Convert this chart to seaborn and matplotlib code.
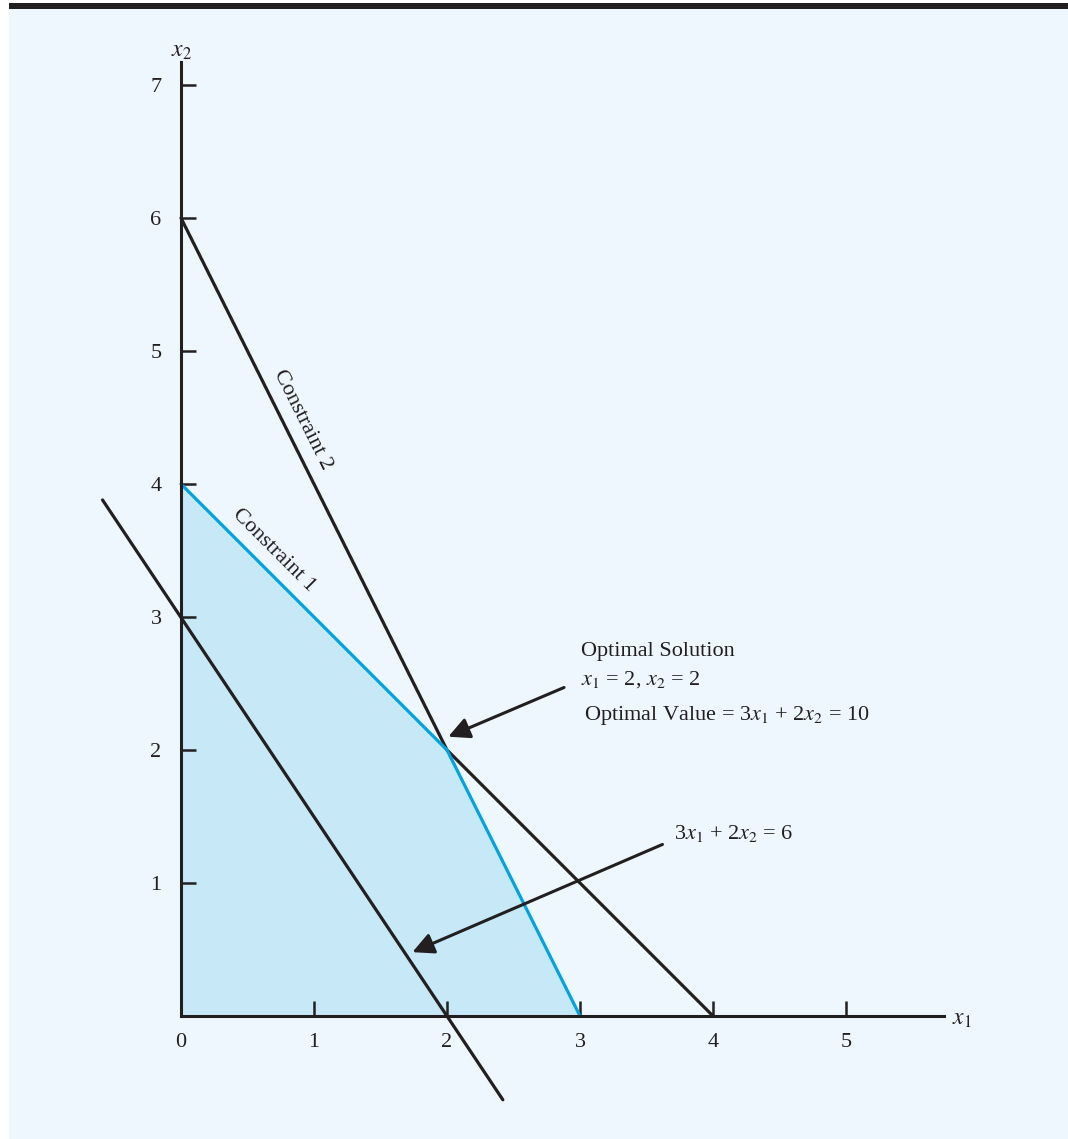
import pandas as pd
import seaborn as sns
import matplotlib.pyplot as plt
from matplotlib.patches import Rectangle

# dados do gráfico
regiao_x = [0, 0, 2, 3]
regiao_y = [0, 4, 2, 0]

restricao1_azul_x = [0, 2]
restricao1_azul_y = [4, 2]
restricao1_preta_x = [2, 4]
restricao1_preta_y = [2, 0]

restricao2_preta_x = [0, 2]
restricao2_preta_y = [6, 2]
restricao2_azul_x = [2, 3]
restricao2_azul_y = [2, 0]

objetivo_x = [-0.59, 2.42]
objetivo_y = [3.88, -0.63]

otimo = (2, 2)
ponto_obj = (1.74, 0.48)

ticks_x = [0, 1, 2, 3, 4, 5]
ticks_y = [1, 2, 3, 4, 5, 6, 7]

AZUL = "#00a3e0"
PRETO = "#231f20"
FUNDO = "#eef7fd"
PREENCH = "#c6e8f7"

sns.set_style("white")
plt.rcParams["font.family"] = ["Liberation Serif", "DejaVu Serif"]
plt.rcParams["mathtext.fontset"] = "stix"

W, H = 1068, 1139
fig = plt.figure(figsize=(W / 100, H / 100), dpi=100)
fig.patch.set_facecolor("white")
ax = fig.add_axes([9 / W, 0, 1 - 9 / W, (H - 9) / H])
ax.set_facecolor(FUNDO)
ax.set_axisbelow(False)
fig.add_artist(Rectangle((9 / W, (H - 9) / H), 1, 6 / H, transform=fig.transFigure,
                         color=PRETO, lw=0))

ax.set_xlim((9 - 181) / 133, (W - 181) / 133)
ax.set_ylim((1016 - H) / 133, (1016 - 9) / 133)

# região viável
ax.fill(regiao_x, regiao_y, color=PREENCH, lw=0, zorder=1)

def segmento(xs, ys, cor):
    df = pd.DataFrame({"x": xs, "y": ys})
    sns.lineplot(data=df, x="x", y="y", sort=False, estimator=None, color=cor,
                 lw=2.3, ax=ax, zorder=3)

segmento(restricao2_preta_x, restricao2_preta_y, PRETO)
segmento(restricao1_preta_x, restricao1_preta_y, PRETO)
segmento(objetivo_x, objetivo_y, PRETO)
segmento(restricao1_azul_x, restricao1_azul_y, AZUL)
segmento(restricao2_azul_x, restricao2_azul_y, AZUL)

# eixos
for s in ["top", "right"]:
    ax.spines[s].set_visible(False)
ax.spines["left"].set_position(("data", 0))
ax.spines["bottom"].set_position(("data", 0))
ax.spines["left"].set_bounds(0, 7.17)
ax.spines["bottom"].set_bounds(0, 5.74)
for s in ["left", "bottom"]:
    ax.spines[s].set_linewidth(2.2)
    ax.spines[s].set_color(PRETO)
    ax.spines[s].set_zorder(4)

ax.set_xticks(ticks_x)
ax.set_yticks(ticks_y)
ax.set_xticklabels([str(t) for t in ticks_x])
ax.set_yticklabels([str(t) for t in ticks_y])
ax.tick_params(axis="both", direction="in", length=11, width=1.8, color=PRETO,
               labelsize=16, labelcolor=PRETO, bottom=True, left=True)
ax.tick_params(axis="x", pad=12)
ax.tick_params(axis="y", pad=14)
ax.set_xlabel("")
ax.set_ylabel("")

ax.text(5.80, -0.03, "$x_1$", fontsize=17, color=PRETO, ha="left", va="center")
ax.text(0.0, 7.25, "$x_2$", fontsize=17, color=PRETO, ha="center", va="center")

# rótulos das restrições
ax.text(0.91, 4.48, "Constraint 2", fontsize=16, color=PRETO, rotation=-63.4,
        ha="center", va="center", rotation_mode="anchor")
ax.text(0.70, 3.50, "Constraint 1", fontsize=16, color=PRETO, rotation=-45,
        ha="center", va="center", rotation_mode="anchor")

# anotações
ax.text(3.01, 2.74, "Optimal Solution", fontsize=16, color=PRETO, ha="left", va="center")
ax.text(3.01, 2.53, "$x_1$ = 2, $x_2$ = 2", fontsize=16, color=PRETO, ha="left", va="center")
ax.text(3.03, 2.26, "Optimal Value = 3$x_1$ + 2$x_2$ = 10", fontsize=16, color=PRETO,
        ha="left", va="center")
ax.text(3.71, 1.37, "3$x_1$ + 2$x_2$ = 6", fontsize=16, color=PRETO, ha="left", va="center")

seta = dict(arrowstyle="-|>", lw=2.2, color=PRETO, mutation_scale=32,
            shrinkA=0, shrinkB=0)
ax.annotate("", xy=(otimo[0] + 0.01, otimo[1] + 0.10), xytext=(2.88, 2.47),
            arrowprops=seta, zorder=5)
ax.annotate("", xy=ponto_obj, xytext=(3.62, 1.29), arrowprops=seta, zorder=5)

fig.savefig("out.png", dpi=100, facecolor=fig.get_facecolor())
